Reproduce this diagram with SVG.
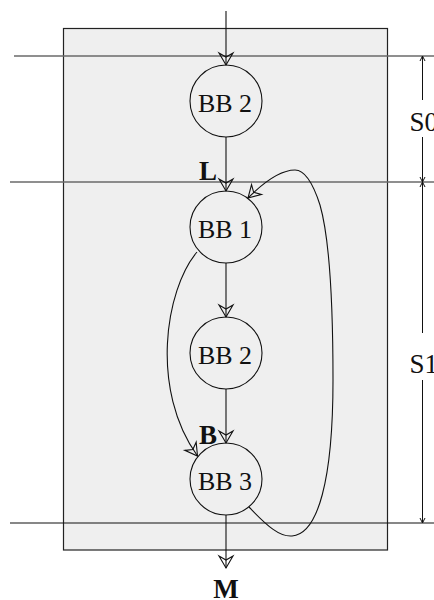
<svg xmlns="http://www.w3.org/2000/svg" width="434" height="600" viewBox="0 0 434 600">
<style>
.node circle{fill:none;stroke:#111;stroke-width:1.1}
.node text{font-family:"Liberation Serif","Times New Roman",serif;font-size:26px;text-anchor:middle;fill:#111}
.lbl{font-family:"Liberation Serif","Times New Roman",serif;font-size:27px;font-weight:bold;fill:#111}
.dimt{font-family:"Liberation Serif","Times New Roman",serif;font-size:27px;fill:#111}
.edge{fill:none;stroke:#111;stroke-width:1.1;marker-end:url(#arr)}
.sep{stroke:#6a6a6a;stroke-width:1.6}
.dim{fill:none;stroke:#111;stroke-width:1}
</style>
<defs>
<marker id="arr" markerUnits="userSpaceOnUse" viewBox="-14 -9 16 18" markerWidth="16" markerHeight="18" refX="0" refY="0" orient="auto">
<path d="M0,0 L-12,-7 L-8,0 L-12,7 Z" fill="none" stroke="#111" stroke-width="1.1" stroke-linejoin="miter"/>
</marker>
<marker id="da" markerUnits="userSpaceOnUse" viewBox="-7 -4 8 8" markerWidth="8" markerHeight="8" refX="0" refY="0" orient="auto-start-reverse">
<path d="M-5,-2.5 L0,0 L-5,2.5" fill="none" stroke="#111" stroke-width="1"/>
</marker>
</defs>
<rect id="region" x="63.5" y="28.5" width="324" height="521.5" fill="#efefef" stroke="#222" stroke-width="1.2"/>
<g id="separators">
<line class="sep" x1="14" y1="56" x2="434" y2="56"/>
<line class="sep" x1="10" y1="182" x2="434" y2="182"/>
<line x1="10" y1="523" x2="434" y2="523" stroke="#111" stroke-width="1.1"/>
</g>
<g id="dimensions">
<line class="dim" x1="422.5" y1="56" x2="422.5" y2="100" marker-start="url(#da)"/>
<line class="dim" x1="422.5" y1="137" x2="422.5" y2="182" marker-end="url(#da)"/>
<line class="dim" x1="422.5" y1="182" x2="422.5" y2="333" marker-start="url(#da)"/>
<line class="dim" x1="422.5" y1="380" x2="422.5" y2="523" marker-end="url(#da)"/>
<text class="dimt" x="409.5" y="131">S0</text>
<text class="dimt" x="409.5" y="373">S1</text>
</g>
<g id="connectors">
<path class="edge" d="M226,11 L226,65"/>
<path class="edge" d="M226,137 L226,191"/>
<path class="edge" d="M226,263 L226,317"/>
<path class="edge" d="M226,389 L226,443"/>
<path class="edge" d="M226,515 L226,568"/>
<path class="edge" d="M197,252 C165,290 150,390 197.5,456"/>
<path class="edge" d="M249,507 C268,527 280,537 292,536 C318,534 333,480 333,380 C333,300 330,240 320,205 C312,180 303,170 295,170 C280,170 262,184 248,198"/>
</g>
<g id="n_bb2_top" class="node"><circle cx="226" cy="101" r="36"/><text x="225" y="112">BB 2</text></g>
<g id="n_bb1" class="node"><circle cx="226" cy="227" r="36"/><text x="225" y="238">BB 1</text></g>
<g id="n_bb2" class="node"><circle cx="226" cy="353" r="36"/><text x="225" y="364">BB 2</text></g>
<g id="n_bb3" class="node"><circle cx="226" cy="479" r="36"/><text x="225" y="490">BB 3</text></g>
<g id="labels">
<text class="lbl" x="199" y="180">L</text>
<text class="lbl" x="199" y="444">B</text>
<text class="lbl" x="226" y="598" text-anchor="middle">M</text>
</g>
</svg>
